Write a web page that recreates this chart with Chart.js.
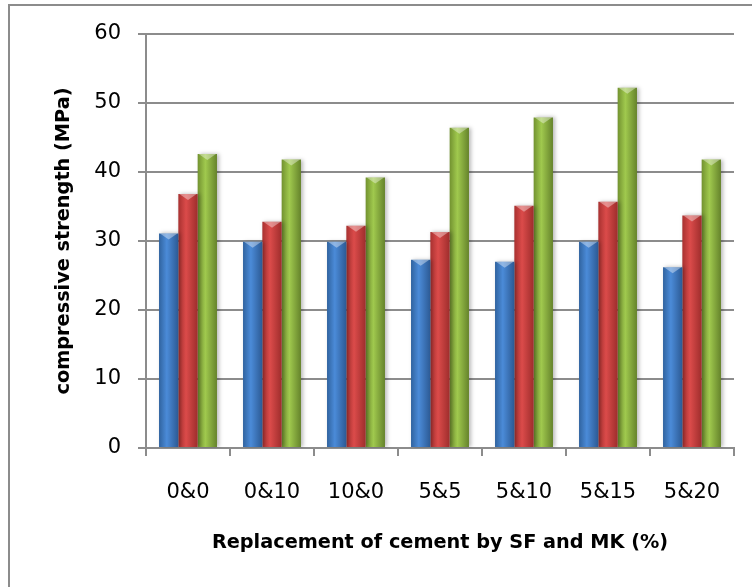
<!DOCTYPE html>
<html>
<head>
<meta charset="utf-8">
<script src="https://cdn.jsdelivr.net/npm/chart.js@4"></script>
<style>
  html, body { margin: 0; padding: 0; background: #fff; overflow: hidden; }
  canvas { display: block; }
</style>
</head>
<body>
<canvas id="chart" width="752" height="587"></canvas>
<script>
// chart values
const categories = ['0&0', '0&10', '10&0', '5&5', '5&10', '5&15', '5&20'];
const seriesBlue  = [31.1, 29.9, 29.9, 27.3, 27.0, 29.9, 26.2];
const seriesRed   = [36.8, 32.8, 32.2, 31.3, 35.1, 35.7, 33.7];
const seriesGreen = [42.6, 41.8, 39.2, 46.4, 47.9, 52.2, 41.8];
const yTicks = [0, 10, 20, 30, 40, 50, 60];

const AXIS = '#8c8c8c';
const CAT_PCT = 0.69;

// dark edge, light centre, darker right edge
const SHADES = [
  ['#30639f', '#4b8bd8', '#2c5a94'],
  ['#a83130', '#db4b4a', '#9e2d2c'],
  ['#729230', '#a0c94e', '#65832b'],
];

function barFill(ctx) {
  const chart = ctx.chart;
  const x = chart.scales.x;
  const shades = SHADES[ctx.datasetIndex];
  if (!x || ctx.dataIndex === undefined || !isFinite(x.width) || !x.width) return shades[1];
  const cw = x.width / categories.length;
  const gw = cw * CAT_PCT;
  const bw = gw / 3;
  const left = x.getPixelForValue(ctx.dataIndex) - gw / 2 + ctx.datasetIndex * bw;
  if (!isFinite(left)) return shades[1];
  const g = chart.ctx.createLinearGradient(left, 0, left + bw, 0);
  g.addColorStop(0, shades[0]);
  g.addColorStop(0.4, shades[1]);
  g.addColorStop(1, shades[2]);
  return g;
}

// outer chart frame (left and top edges only are in view)
const frame = {
  id: 'frame',
  beforeDraw(chart) {
    const c = chart.ctx;
    c.save();
    c.strokeStyle = AXIS;
    c.lineWidth = 2;
    c.beginPath();
    c.moveTo(9, chart.height);
    c.lineTo(9, 5);
    c.lineTo(chart.width, 5);
    c.stroke();
    c.restore();
  }
};

const barLook = {
  id: 'barLook',
  beforeDatasetsDraw(chart) {
    const c = chart.ctx;
    c.save();
    c.shadowColor = 'rgba(0,0,0,0.28)';
    c.shadowBlur = 4;
    c.shadowOffsetX = 2;
    c.shadowOffsetY = 0;
  },
  afterDatasetsDraw(chart) {
    const c = chart.ctx;
    c.restore();
    c.save();
    chart.data.datasets.forEach((ds, di) => {
      chart.getDatasetMeta(di).data.forEach(el => {
        const l = el.x - el.width / 2, r = el.x + el.width / 2;
        c.fillStyle = 'rgba(255,255,255,0.38)';
        c.beginPath();
        c.moveTo(l + 1, el.y);
        c.lineTo(r - 1, el.y);
        c.lineTo(el.x, el.y + 6);
        c.closePath();
        c.fill();
      });
    });
    c.restore();
  }
};

new Chart(document.getElementById('chart'), {
  type: 'bar',
  data: {
    labels: categories,
    datasets: [
      { label: 'Series1', data: seriesBlue },
      { label: 'Series2', data: seriesRed },
      { label: 'Series3', data: seriesGreen },
    ].map(d => Object.assign(d, {
      backgroundColor: barFill,
      borderWidth: 0,
      categoryPercentage: CAT_PCT,
      barPercentage: 1,
    })),
  },
  options: {
    responsive: false,
    animation: false,
    layout: { padding: { top: 34, right: 18, left: 0, bottom: 0 } },
    plugins: { legend: { display: false }, tooltip: { enabled: false } },
    scales: {
      x: {
        grid: { drawOnChartArea: false, drawTicks: true, tickLength: 8, color: AXIS, lineWidth: 2 },
        border: { color: AXIS, width: 2 },
        ticks: { color: '#000', padding: 24, font: { family: 'DejaVu Sans', size: 21 } },
        title: {
          display: true,
          text: 'Replacement of cement by SF and MK (%)',
          color: '#000',
          font: { family: 'DejaVu Sans', weight: 'bold', size: 19.3 },
          padding: { top: 0, bottom: 32 },
        },
        afterFit(s) { s.height = 139; },
      },
      y: {
        min: 0,
        max: 60,
        afterBuildTicks(s) { s.ticks = yTicks.map(v => ({ value: v })); },
        grid: { color: AXIS, lineWidth: 2, tickLength: 8 },
        border: { color: AXIS, width: 2 },
        ticks: { color: '#000', padding: 17, font: { family: 'DejaVu Sans', size: 21 } },
        title: {
          display: true,
          text: 'compressive strength (MPa)',
          color: '#000',
          font: { family: 'DejaVu Sans', weight: 'bold', size: 19.3 },
          padding: { top: 52, bottom: 0 },
        },
        afterFit(s) { s.width = 146; },
      },
    },
  },
  plugins: [frame, barLook],
});
</script>
</body>
</html>
